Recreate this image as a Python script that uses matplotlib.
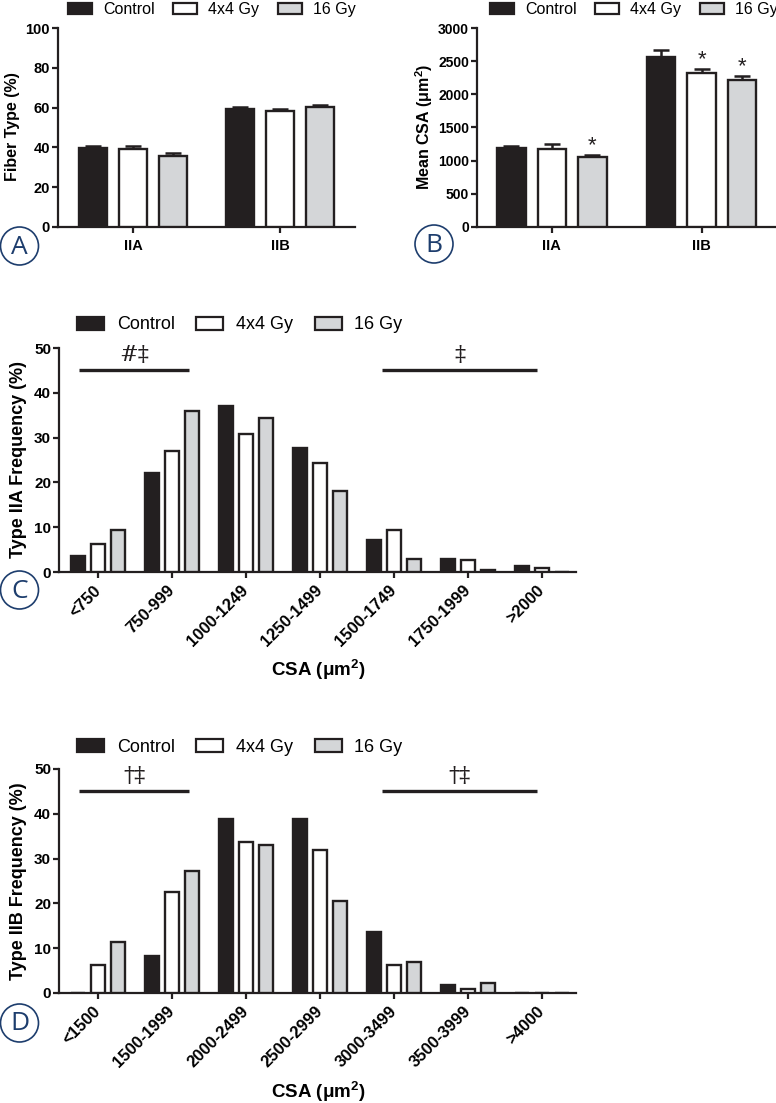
import numpy as np
import matplotlib
matplotlib.use("Agg")
import matplotlib.pyplot as plt
from matplotlib.patches import Patch, Circle

plt.rcParams['font.family'] = ['Liberation Sans', 'DejaVu Sans']
plt.rcParams['mathtext.fontset'] = 'custom'
plt.rcParams['mathtext.rm'] = 'Liberation Sans'
plt.rcParams['mathtext.bf'] = 'Liberation Sans:bold'
plt.rcParams['mathtext.it'] = 'Liberation Sans:italic'

W, H, DPI = 776, 1103, 100

EDGE = '#231f20'
GRAY = '#d4d6d8'
NAVY = '#1d3d6d'

groups = ['Control', '4x4 Gy', '16 Gy']
fiber_types = ['IIA', 'IIB']

# A - fiber type distribution (%)
fiber_control = [39.8, 59.3]
fiber_4x4 = [39.0, 58.3]
fiber_16 = [35.8, 60.2]
fiber_control_err = [1.0, 1.2]
fiber_4x4_err = [1.8, 1.2]
fiber_16_err = [1.5, 1.1]

# B - mean CSA (um^2)
csa_control = [1196, 2563]
csa_4x4 = [1171, 2327]
csa_16 = [1055, 2211]
csa_control_err = [30, 100]
csa_4x4_err = [75, 50]
csa_16_err = [30, 60]
csa_stars = [(2, 0), (1, 1), (2, 1)]  # (group idx, fiber type idx)

# C - type IIA frequency (%)
iia_bins = ['<750', '750-999', '1000-1249', '1250-1499', '1500-1749', '1750-1999', '>2000']
iia_control = [3.6, 22.2, 37.0, 27.7, 7.2, 2.9, 1.4]
iia_4x4 = [6.2, 26.9, 30.8, 24.3, 9.4, 2.75, 0.95]
iia_16 = [9.4, 35.9, 34.3, 18.0, 3.0, 0.5, 0.0]
iia_sig_spans = [(-0.26, 1.23), (3.84, 5.93)]
iia_sig_marks = ['#‡', '‡']

# D - type IIB frequency (%)
iib_bins = ['<1500', '1500-1999', '2000-2499', '2500-2999', '3000-3499', '3500-3999', '>4000']
iib_control = [0.0, 8.2, 38.9, 38.9, 13.7, 1.8, 0.0]
iib_4x4 = [6.2, 22.5, 33.6, 31.9, 6.2, 0.9, 0.0]
iib_16 = [11.4, 27.3, 33.0, 20.5, 7.0, 2.2, 0.0]
iib_sig_spans = [(-0.26, 1.23), (3.84, 5.93)]
iib_sig_marks = ['†‡', '†‡']

colors = [EDGE, 'white', GRAY]


def add_axes_px(fig, x0, y0, x1, y1):
    return fig.add_axes([x0 / W, 1 - y1 / H, (x1 - x0) / W, (y1 - y0) / H])


def style_axes(ax):
    for s in ['top', 'right']:
        ax.spines[s].set_visible(False)
    for s in ['left', 'bottom']:
        ax.spines[s].set_linewidth(1.6)
        ax.spines[s].set_color(EDGE)
    ax.tick_params(width=1.6, length=4.5, color=EDGE, pad=1.2)


def draw_bars(ax, series, errs=None, width=0.19, offset=0.272):
    x = np.arange(len(series[0]))
    for i, vals in enumerate(series):
        xs = x + (i - 1) * offset
        ax.bar(xs, vals, width, color=colors[i], edgecolor=EDGE, linewidth=1.7, zorder=3)
        if errs is not None:
            ax.errorbar(xs, vals, yerr=[np.zeros(len(vals)), errs[i]], fmt='none',
                        ecolor=EDGE, elinewidth=1.8, capsize=5.5, capthick=1.8, zorder=2)
    return x


def add_legend(fig, x, y, size, hl, tp, cs):
    handles = [Patch(facecolor=c, edgecolor=EDGE, linewidth=1.6) for c in colors]
    fig.legend(handles, groups, loc='center left', bbox_to_anchor=(x / W, 1 - y / H),
               ncol=3, frameon=False, fontsize=size, handlelength=hl, handleheight=0.75,
               handletextpad=tp, columnspacing=cs, borderpad=0, borderaxespad=0)


def bold_ticks(ax, size):
    for lab in ax.get_xticklabels() + ax.get_yticklabels():
        lab.set_fontweight('bold')
        lab.set_fontsize(size)


fig = plt.figure(figsize=(W / DPI, H / DPI), dpi=DPI)

# ---- A ----
axA = add_axes_px(fig, 58, 28, 355, 227)
style_axes(axA)
draw_bars(axA, [fiber_control, fiber_4x4, fiber_16],
          [fiber_control_err, fiber_4x4_err, fiber_16_err])
axA.set_xlim(-0.51, 1.51)
axA.set_ylim(0, 100)
axA.set_yticks(np.arange(0, 101, 20))
axA.set_xticks(range(len(fiber_types)))
axA.set_xticklabels(fiber_types)
axA.tick_params(axis='x', pad=4)
bold_ticks(axA, 10.5)
fig.text(12.5 / W, 1 - 127 / H, 'Fiber Type (%)', rotation=90, ha='center', va='center',
         fontsize=11.5, fontweight='bold')
add_legend(fig, 68, 9.5, 11.5, 1.5, 0.7, 1.15)

# ---- B ----
axB = add_axes_px(fig, 477, 28, 775, 227)
style_axes(axB)
xB = draw_bars(axB, [csa_control, csa_4x4, csa_16],
               [csa_control_err, csa_4x4_err, csa_16_err], offset=0.27)
axB.set_xlim(-0.50, 1.49)
axB.set_ylim(0, 3000)
axB.set_yticks(np.arange(0, 3001, 500))
axB.set_xticks(range(len(fiber_types)))
axB.set_xticklabels(fiber_types)
axB.tick_params(axis='x', pad=4)
bold_ticks(axB, 10)
for lab in axB.get_xticklabels():
    lab.set_fontsize(10.5)
all_csa = [csa_control, csa_4x4, csa_16]
all_csa_err = [csa_control_err, csa_4x4_err, csa_16_err]
for g, t in csa_stars:
    top = all_csa[g][t] + all_csa_err[g][t]
    axB.text(xB[t] + (g - 1) * 0.27, top + 60, '*', ha='center', va='baseline',
             fontsize=16, color=EDGE)
fig.text(424 / W, 1 - 127 / H, r'Mean CSA (μm$^\mathbf{2}$)', rotation=90,
         ha='center', va='center', fontsize=11.5, fontweight='bold')
add_legend(fig, 490, 9.5, 11.5, 1.5, 0.7, 1.15)


# ---- C and D ----
def freq_panel(top, bottom, bins, series, spans, marks, ylabel, leg_y, xlab_y):
    ax = add_axes_px(fig, 59, top, 576, bottom)
    style_axes(ax)
    draw_bars(ax, series, width=0.19, offset=0.27)
    ax.set_xlim(-0.53, 6.46)
    ax.set_ylim(0, 50)
    ax.set_yticks(np.arange(0, 51, 10))
    ax.set_xticks(range(len(bins)))
    ax.set_xticklabels(bins, rotation=45, ha='right', va='center', rotation_mode='anchor')
    ax.tick_params(axis='x', pad=7)
    bold_ticks(ax, 11)
    for lab in ax.get_xticklabels():
        lab.set_fontsize(12)
    for (a, b), m in zip(spans, marks):
        ax.plot([a, b], [45, 45], color=EDGE, lw=2.4, solid_capstyle='butt', clip_on=False)
        ax.text((a + b) / 2, 47.0, m, ha='center', va='baseline', fontsize=16,
                color=EDGE, family=['DejaVu Serif', 'DejaVu Sans'])
    fig.text(19 / W, 1 - (top + bottom) / 2 / H, ylabel, rotation=90, ha='center',
             va='center', fontsize=13, fontweight='bold')
    fig.text(318 / W, 1 - xlab_y / H, r'CSA (μm$^\mathbf{2}$)', ha='center', va='center',
             fontsize=13.5, fontweight='bold')
    add_legend(fig, 77, leg_y, 13, 1.5, 0.7, 1.2)
    return ax


freq_panel(348, 572, iia_bins, [iia_control, iia_4x4, iia_16], iia_sig_spans,
           iia_sig_marks, 'Type IIA Frequency (%)', 325, 670)
freq_panel(769, 993, iib_bins, [iib_control, iib_4x4, iib_16], iib_sig_spans,
           iib_sig_marks, 'Type IIB Frequency (%)', 747, 1092)

# panel letters in circles
panel_letters = ['A', 'B', 'C', 'D']
circle_xy = [(19.5, 246), (434, 244), (19.5, 590), (19.5, 1023)]
for letter, (cx, cy) in zip(panel_letters, circle_xy):
    fig.add_artist(Circle((cx / DPI, (H - cy) / DPI), 0.19, transform=fig.dpi_scale_trans,
                          fill=False, edgecolor=NAVY, lw=1.2))
    fig.text(cx / W, 1 - (cy + 1) / H, letter, ha='center', va='center', fontsize=19,
             color=NAVY, family=['Open Sans', 'DejaVu Sans'])

fig.savefig('out.png', dpi=DPI)
